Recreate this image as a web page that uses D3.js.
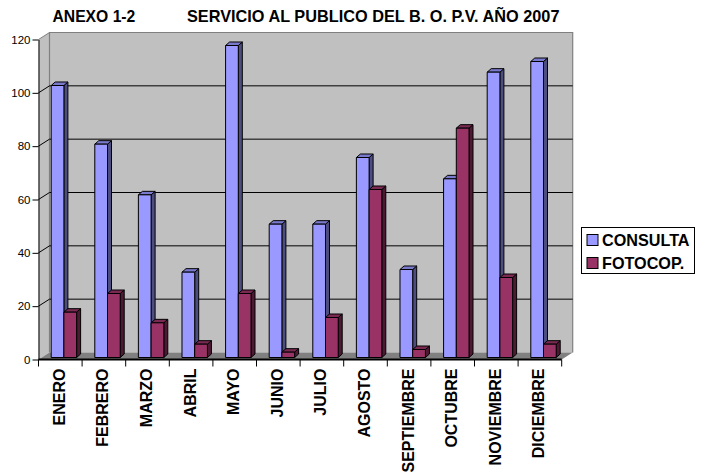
<!DOCTYPE html>
<html lang="en">
<head>
<meta charset="utf-8">
<title>Anexo 1-2</title>
<script src="https://cdn.jsdelivr.net/npm/d3@7"></script>
<style>
  html, body { margin: 0; padding: 0; background: #fff; }
  svg { display: block; }
  text { font-family: "Liberation Sans", Arial, sans-serif; fill: #000; }
</style>
</head>
<body>
<svg width="704" height="473"></svg>
<script>
var months = ["ENERO", "FEBRERO", "MARZO", "ABRIL", "MAYO", "JUNIO", "JULIO", "AGOSTO", "SEPTIEMBRE", "OCTUBRE", "NOVIEMBRE", "DICIEMBRE"];
var seriesNames = ["CONSULTA", "FOTOCOP."];
var consulta = [102, 80, 61, 32, 117, 50, 50, 75, 33, 67, 107, 111];
var fotocop = [17, 24, 13, 5, 24, 2, 15, 63, 3, 86, 30, 5];
var yTicks = [0, 20, 40, 60, 80, 100, 120];
var seriesValues = [consulta, fotocop];

var colors = [
  { front: "#9999ff", side: "#4d4d80", top: "#7a7acc" },
  { front: "#993366", side: "#4d1a33", top: "#7a2952" }
];

var svg = d3.select("svg");

var plotLeft = 38.5, plotRight = 561.7, plotBottom = 359.5, plotTop = 39.5;
var wallDx = 11, wallDy = 7;   // how far the back wall sits behind the axes
var barLift = 2, depthX = 4, depthY = 3.5;

var y = d3.scaleLinear().domain([0, 120]).range([plotBottom, plotTop]);
var x = d3.scaleBand().domain(months).range([plotLeft, plotRight]).paddingInner(0.417).paddingOuter(0.2085);
var xCell = d3.scaleBand().domain(months).range([plotLeft, plotRight]);
var xSeries = d3.scaleBand().domain(d3.range(seriesNames.length)).range([0, x.bandwidth()]);

// walls and floor
svg.append("polygon")
   .attr("fill", "#c0c0c0")
   .attr("points", [[plotLeft, plotTop], [plotLeft + wallDx, plotTop - wallDy], [plotRight + wallDx, plotTop - wallDy], [plotRight + wallDx, plotBottom - wallDy], [plotLeft + wallDx, plotBottom - wallDy], [plotLeft, plotBottom]].join(" "));

svg.append("polygon")
   .attr("fill", "#808080")
   .attr("points", [[plotLeft, plotBottom], [plotLeft + wallDx, plotBottom - wallDy], [plotRight + wallDx, plotBottom - wallDy], [plotRight, plotBottom]].join(" "));

svg.append("polyline")
   .attr("fill", "none")
   .attr("stroke", "#808080")
   .attr("stroke-width", 1.2)
   .attr("points", [[plotLeft + wallDx, plotBottom - wallDy], [plotLeft + wallDx, plotTop - wallDy], [plotRight + wallDx, plotTop - wallDy], [plotRight + wallDx, plotBottom - wallDy]].join(" "));

// grid lines on the two walls
var grid = svg.append("g");
yTicks.slice(1).forEach(function(t) {
  grid.append("polyline")
      .attr("fill", "none")
      .attr("stroke", t == 120 ? "#808080" : "#000")
      .attr("points", [[plotLeft, y(t)], [plotLeft + wallDx, y(t) - wallDy], [plotRight + wallDx, y(t) - wallDy]].join(" "));
});

// bars
var groups = svg.selectAll(".month")
   .data(months)
   .enter().append("g")
   .attr("class", "month")
   .attr("transform", function(d) { return "translate(" + (x(d) + 3.6) + ",0)"; });

seriesValues.forEach(function(values, s) {
  var w = xSeries.bandwidth();
  var bars = groups.append("g")
     .attr("transform", "translate(" + xSeries(s) + "," + (-barLift) + ")")
     .attr("stroke", "#000")
     .attr("stroke-width", 1)
     .attr("stroke-linejoin", "round");

  bars.append("polygon")
     .attr("fill", colors[s].side)
     .attr("points", function(d, i) {
       var t = y(values[i]);
       return [[w, t], [w + depthX, t - depthY], [w + depthX, plotBottom - depthY], [w, plotBottom]].join(" ");
     });
  bars.append("polygon")
     .attr("fill", colors[s].top)
     .attr("points", function(d, i) {
       var t = y(values[i]);
       return [[0, t], [depthX, t - depthY], [w + depthX, t - depthY], [w, t]].join(" ");
     });
  bars.append("rect")
     .attr("fill", colors[s].front)
     .attr("x", 0)
     .attr("width", w)
     .attr("y", function(d, i) { return y(values[i]); })
     .attr("height", function(d, i) { return plotBottom - y(values[i]); });
});

// y axis
var yAxis = svg.append("g")
   .attr("transform", "translate(" + plotLeft + ",0)")
   .call(d3.axisLeft(y).tickValues(yTicks).tickSize(6).tickSizeOuter(0).tickPadding(2));
yAxis.selectAll("text").style("font-size", "11.5px").style("font-family", "Liberation Sans").attr("fill", "#222");
yAxis.select(".domain").attr("stroke", "#000");

// x axis, labels turned upright and ticks on the cell edges
var xAxis = svg.append("g")
   .attr("transform", "translate(0," + plotBottom + ")")
   .call(d3.axisBottom(x).tickSize(0).tickPadding(0));
xAxis.select(".domain").remove();
xAxis.selectAll("text")
   .style("font-size", "16px")
   .style("font-weight", "bold")
   .style("font-family", "Liberation Sans")
   .attr("text-anchor", "end")
   .attr("transform", "translate(0,9) rotate(-90)")
   .attr("x", 0)
   .attr("y", 4.5)
   .attr("dy", 0);

svg.append("line")
   .attr("x1", plotLeft).attr("x2", plotRight).attr("y1", plotBottom).attr("y2", plotBottom)
   .attr("stroke", "#000").attr("stroke-width", 2);

svg.append("g").selectAll("line")
   .data(months.concat(["end"]))
   .enter().append("line")
   .attr("x1", function(d, i) { return i < months.length ? xCell(d) : plotRight; })
   .attr("x2", function(d, i) { return i < months.length ? xCell(d) : plotRight; })
   .attr("y1", plotBottom)
   .attr("y2", plotBottom + 7)
   .attr("stroke", "#000");

// title
svg.append("text").attr("x", 52.5).attr("y", 22).style("font-size", "15.7px").style("font-weight", "bold").text("ANEXO 1-2");
svg.append("text").attr("x", 187).attr("y", 22).style("font-size", "16.3px").style("font-weight", "bold").text("SERVICIO AL PUBLICO DEL B. O. P.V. AÑO 2007");

// legend
var legend = svg.append("g");
legend.append("rect")
   .attr("x", 581.5).attr("y", 227.5).attr("width", 113).attr("height", 46)
   .attr("fill", "#fff").attr("stroke", "#000");
var entry = legend.selectAll(".entry")
   .data(seriesNames)
   .enter().append("g")
   .attr("class", "entry")
   .attr("transform", function(d, i) { return "translate(587," + (234.5 + i * 23) + ")"; });
entry.append("rect")
   .attr("width", 11).attr("height", 11)
   .attr("stroke", "#000")
   .attr("fill", function(d, i) { return colors[i].front; });
entry.append("text")
   .attr("x", 15).attr("y", 11)
   .style("font-size", "16.2px").style("font-weight", "bold")
   .text(function(d) { return d; });
</script>
</body>
</html>
